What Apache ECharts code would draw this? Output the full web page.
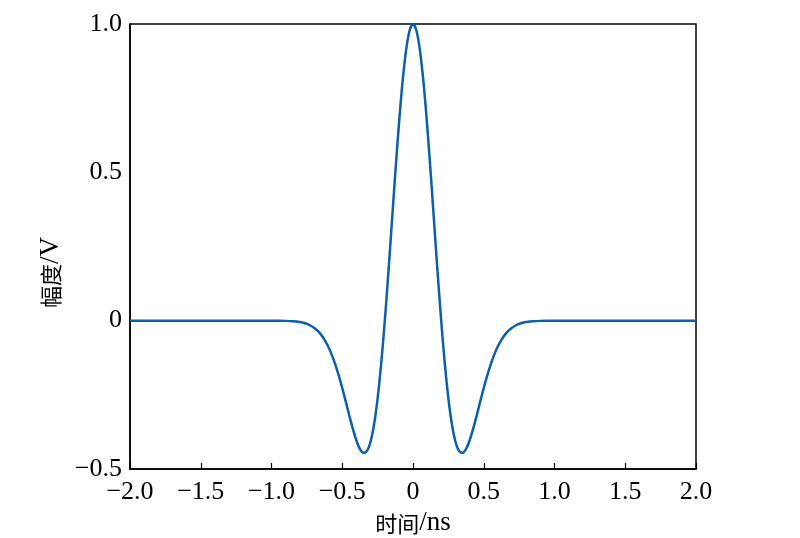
<!DOCTYPE html>
<html><head><meta charset="utf-8">
<script src="https://cdn.jsdelivr.net/npm/echarts@6/dist/echarts.min.js"></script>
<style>html,body{margin:0;padding:0;background:#fff}#c{width:800px;height:538px}</style>
</head><body><div id="c"></div>
<script>
const timeNs = [-2.0,-1.9,-1.8,-1.7,-1.6,-1.5,-1.4,-1.3,-1.2,-1.1,-1.0,-0.95,-0.9,-0.85,-0.8,-0.775,-0.75,-0.725,-0.7,-0.675,-0.65,-0.625,-0.6,-0.575,-0.55,-0.525,-0.5,-0.475,-0.45,-0.425,-0.4,-0.375,-0.35,-0.325,-0.3,-0.275,-0.25,-0.225,-0.2,-0.175,-0.15,-0.125,-0.1,-0.075,-0.05,-0.025,0,0.025,0.05,0.075,0.1,0.125,0.15,0.175,0.2,0.225,0.25,0.275,0.3,0.325,0.35,0.375,0.4,0.425,0.45,0.475,0.5,0.525,0.55,0.575,0.6,0.625,0.65,0.675,0.7,0.725,0.75,0.775,0.8,0.85,0.9,0.95,1.0,1.1,1.2,1.3,1.4,1.5,1.6,1.7,1.8,1.9,2.0];
const amplitudeV = [0,0,0,0,0,0,0,0,0,0,-0.0001,-0.00025,-0.0007,-0.0019,-0.0048,-0.0073,-0.011,-0.0163,-0.0236,-0.0337,-0.047,-0.0645,-0.0865,-0.1137,-0.1465,-0.1845,-0.227,-0.273,-0.32,-0.3648,-0.4038,-0.4325,-0.4458,-0.439,-0.408,-0.3493,-0.2616,-0.1457,-0.0048,0.1551,0.326,0.4979,0.659,0.7995,0.908,0.9765,1.0,0.9765,0.908,0.7995,0.659,0.4979,0.326,0.1551,-0.0048,-0.1457,-0.2616,-0.3493,-0.408,-0.439,-0.4458,-0.4325,-0.4038,-0.3648,-0.32,-0.273,-0.227,-0.1845,-0.1465,-0.1137,-0.0865,-0.0645,-0.047,-0.0337,-0.0236,-0.0163,-0.011,-0.0073,-0.0048,-0.0019,-0.0007,-0.00025,-0.0001,0,0,0,0,0,0,0,0,0,0];
const xTicks = [-2.0,-1.5,-1.0,-0.5,0,0.5,1.0,1.5,2.0];
const yTicks = [-0.5,0,0.5,1.0];
const xName = '时间/ns';
const yName = '幅度/V';

function fmt(v){
  if (Math.abs(v) < 1e-9) return '0';
  const s = Math.abs(v).toFixed(1);
  return (v < 0 ? '\u2212' : '') + s;
}
function richName(s){
  return s.replace(/([\u4e00-\u9fff]+)|([^\u4e00-\u9fff]+)/g, (m, c, l) => c ? '{c|' + c + '}' : '{l|' + l + '}');
}
const SERIF = '"Liberation Serif",serif';
const CJK = '"Noto Sans CJK SC",sans-serif';
const nameRich = {
  c:{fontFamily:CJK,fontSize:22,color:'#000'},
  l:{fontFamily:SERIF,fontSize:27,color:'#000'}
};
const chart = echarts.init(document.getElementById('c'));
chart.setOption({
  animation:false,
  grid:{left:130,right:104,top:24,bottom:69,containLabel:false,outerBoundsMode:'none',show:true,borderColor:'#000',borderWidth:1.5,backgroundColor:'transparent'},
  xAxis:{type:'value',min:xTicks[0],max:xTicks[xTicks.length-1],interval:0.5,
    name:richName(xName),nameLocation:'middle',nameGap:40,
    nameTextStyle:{rich:nameRich},
    axisLine:{onZero:false,lineStyle:{color:'#000',width:1.5}},
    axisTick:{inside:true,length:6,lineStyle:{color:'#000',width:1.2}},
    axisLabel:{fontFamily:SERIF,fontSize:26,color:'#000',margin:10,formatter:fmt},
    splitLine:{show:false}},
  yAxis:{type:'value',min:yTicks[0],max:yTicks[yTicks.length-1],interval:0.5,
    name:richName(yName),nameLocation:'middle',nameGap:62,
    nameTextStyle:{rich:nameRich,padding:[0,52,0,0]},
    axisLine:{onZero:false,lineStyle:{color:'#000',width:1.5}},
    axisTick:{show:false},
    axisLabel:{fontFamily:SERIF,fontSize:26,color:'#000',margin:8,formatter:fmt},
    splitLine:{show:false}},
  series:[{type:'line',data:timeNs.map((t,i)=>[t,amplitudeV[i]]),smooth:0.3,showSymbol:false,
    lineStyle:{color:'#0b5fac',width:2.5}}]
});
</script></body></html>
